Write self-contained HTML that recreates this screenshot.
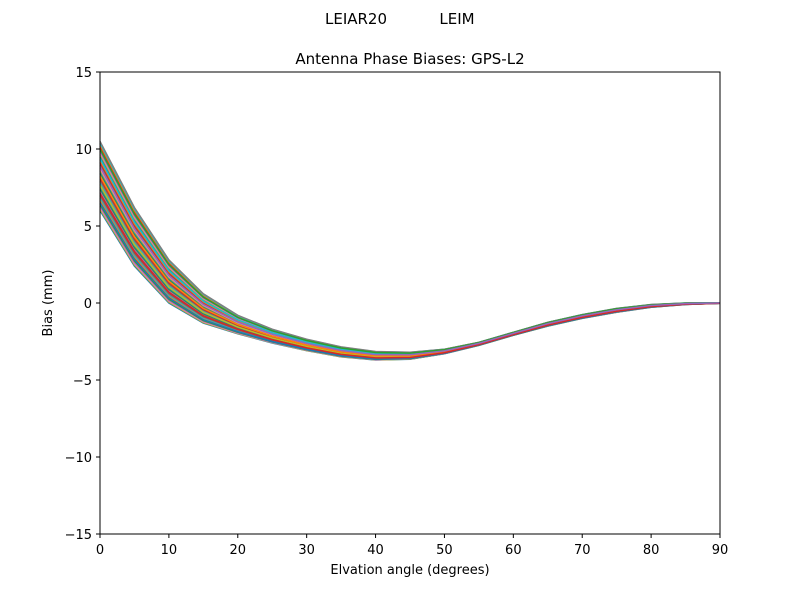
<!DOCTYPE html>
<html><head><meta charset="utf-8"><style>
body{margin:0;background:#fff;}
text{font-family:"DejaVu Sans","Liberation Sans",sans-serif;}
</style></head><body>
<svg id="s" width="800" height="600" xmlns="http://www.w3.org/2000/svg">
<rect width="800" height="600" fill="#fff"/>
<text x="356" y="24" font-size="15" text-anchor="middle">LEIAR20</text>
<text x="457" y="24" font-size="15" text-anchor="middle">LEIM</text>
<text x="410" y="64" font-size="15" text-anchor="middle">Antenna Phase Biases: GPS-L2</text>
<g id="lines"></g>
<rect x="100" y="72" width="620" height="462" fill="none" stroke="#000" stroke-width="1"/>
<g id="ticks" font-size="13"></g>
<text x="410" y="574" font-size="13" text-anchor="middle">Elvation angle (degrees)</text>
<text transform="translate(52,303) rotate(-90)" font-size="13" text-anchor="middle">Bias (mm)</text>
</svg>
<script>
var NS="http://www.w3.org/2000/svg";
function X(v){return 100+v*620/90;}
function Y(v){return 303-v*15.4;}
var lo=[6,2.4,0,-1.3,-2,-2.6,-3.1,-3.5,-3.7,-3.65,-3.3,-2.75,-2.1,-1.5,-1.0,-0.6,-0.28,-0.1,-0.02];
var hi=[10.5,6.2,2.8,0.6,-0.8,-1.7,-2.35,-2.85,-3.15,-3.2,-3.0,-2.55,-1.9,-1.25,-0.75,-0.35,-0.1,0,0.02];
var cols=["#1f77b4","#ff7f0e","#2ca02c","#d62728","#9467bd","#8c564b","#e377c2","#7f7f7f","#bcbd22","#17becf"];
var g=document.getElementById("lines");
var N=45;
for(var i=0;i<N;i++){
 var t=((i*17)%N)/(N-1);
 var p=[];
 for(var k=0;k<19;k++){var v=lo[k]+(hi[k]-lo[k])*t;p.push(X(k*5).toFixed(1)+","+Y(v).toFixed(1));}
 var e=document.createElementNS(NS,"polyline");
 e.setAttribute("points",p.join(" "));e.setAttribute("fill","none");
 e.setAttribute("stroke",cols[i%10]);e.setAttribute("stroke-width","1.5");
 g.appendChild(e);
}
var tk=document.getElementById("ticks");
function add(tag,a,txt){var e=document.createElementNS(NS,tag);for(var k in a)e.setAttribute(k,a[k]);if(txt!==undefined)e.textContent=txt;tk.appendChild(e);}
for(var v=0;v<=90;v+=10){add("line",{x1:X(v),x2:X(v),y1:534,y2:538,stroke:"#000"});add("text",{x:X(v),y:554,"text-anchor":"middle"},String(v));}
for(var v=-15;v<=15;v+=5){add("line",{x1:96,x2:100,y1:Y(v),y2:Y(v),stroke:"#000"});add("text",{x:92,y:Y(v)+5,"text-anchor":"end"},(v<0?"\u2212"+(-v):String(v)));}
</script>
</body></html>
